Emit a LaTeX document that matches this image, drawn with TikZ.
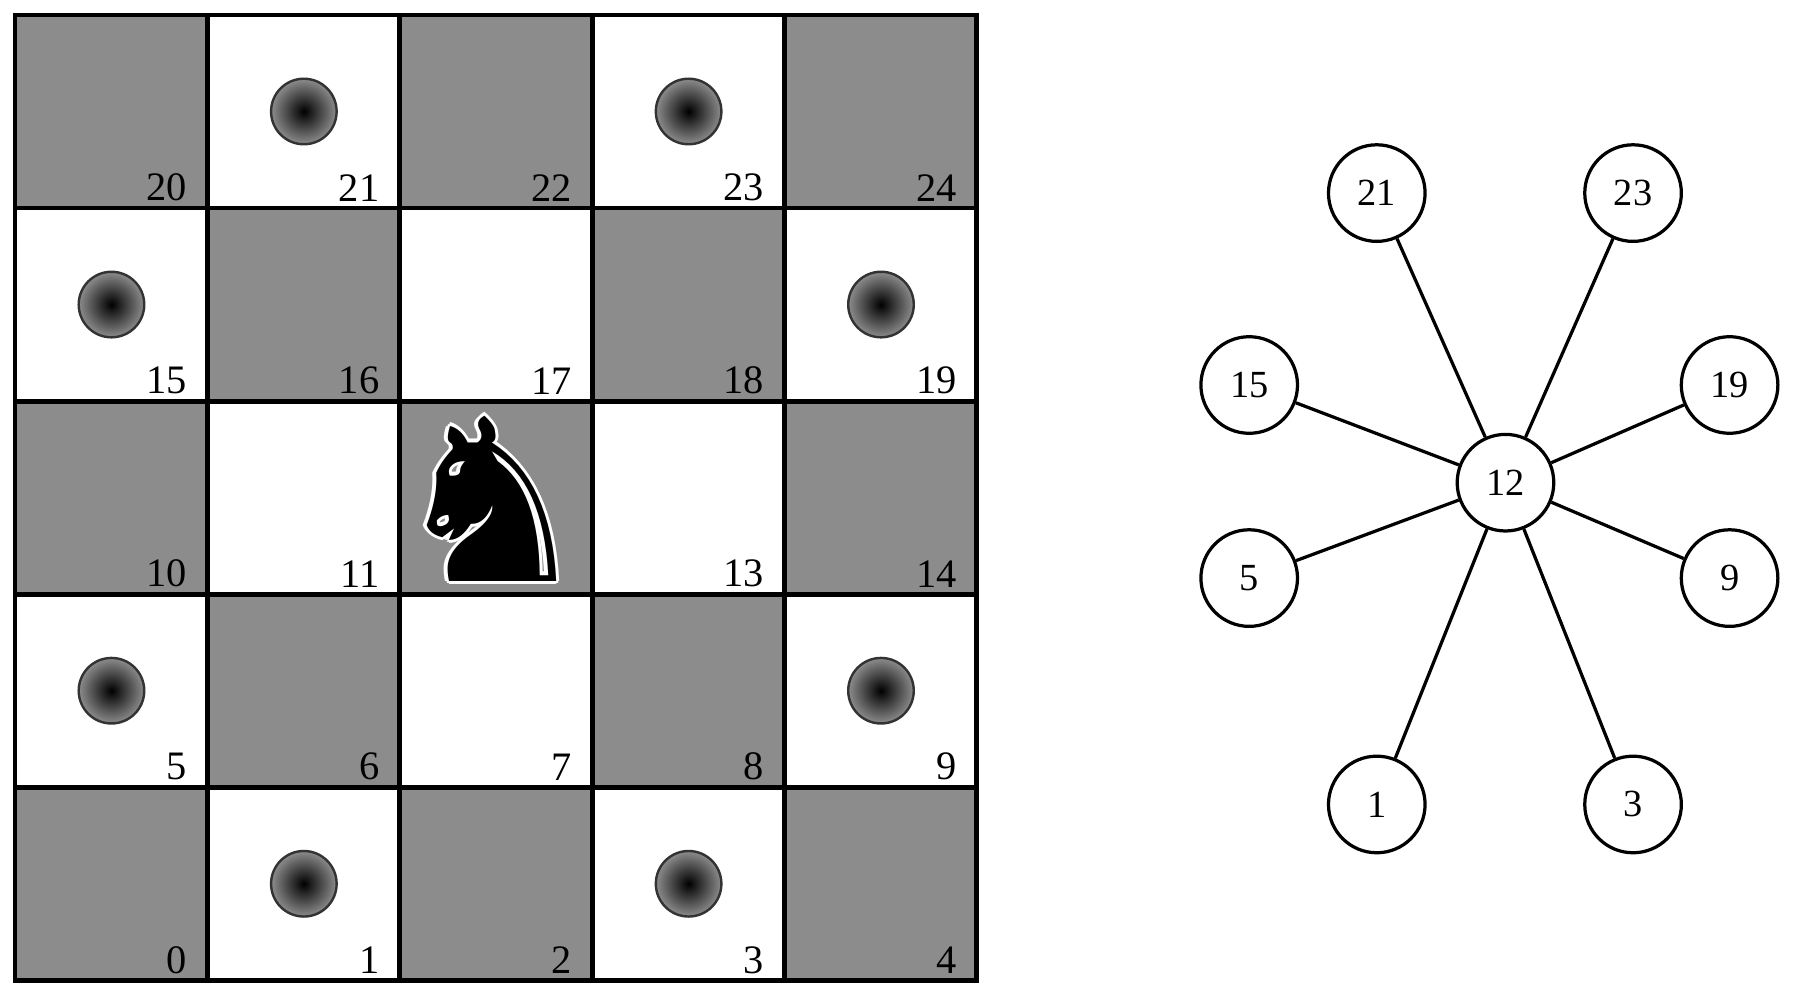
\documentclass[tikz,border=0pt]{standalone}
\usepackage{fontspec}
\setmainfont{Liberation Serif}
\newfontfamily\symfont{DejaVu Sans}
\begin{document}
\begin{tikzpicture}[x=0.01cm,y=-0.01cm,
  sq/.style={draw=black,line width=1.2pt},
  num/.style={anchor=south east,font=\fontsize{10}{10}\selectfont,inner xsep=0pt,inner ysep=1.5pt,xshift=-0.17cm},
  dot/.style={circle,minimum size=0.57cm,inner sep=0pt,draw=black!80,line width=0.6pt,inner color=black,outer color=black!45},
  gnode/.style={circle,draw=black,line width=0.8pt,fill=white,minimum size=0.84cm,inner sep=0pt,font=\fontsize{9.5}{10}\selectfont},
  kfont/.style={font=\symfont\fontsize{56}{56}\selectfont,inner sep=0pt},
  edge/.style={line width=0.8pt}]
\useasboundingbox (0,0) rectangle (1568,866);
\definecolor{gr}{RGB}{140,140,140}
\foreach \r in {0,...,4}{
  \foreach \c in {0,...,4}{
    \pgfmathtruncatemacro{\n}{\r*5+\c}
    \pgfmathtruncatemacro{\p}{mod(\r+\c,2)}
    \pgfmathsetmacro{\xa}{13+\c*167.4}
    \pgfmathsetmacro{\ya}{853-\r*168}
    \ifnum\p=0 \def\fc{gr}\else\def\fc{white}\fi
    \draw[sq,fill=\fc] (\xa,\ya) rectangle ++(167.4,-168);
    \ifnum\n=12 \else \node[num] (n\n) at (\xa+167.4,\ya) {\n};\fi
  }
}
\foreach \c/\r [count=\i] in {1/4,3/4,0/3,4/3,0/1,4/1,1/0,3/0}{
  \node[dot] (d\i) at (13+\c*167.4+84,853-\r*168-84) {};
}
\foreach \dx/\dy in {-3/0,3/0,0/-3,0/3,-2/-2,2/2,-2/2,2/-2}{
  \node[kfont,text=white] at (428+\dx,434+\dy) {♞};
}
\node[kfont] (kn) at (428,434) {♞};
% graph
\node[gnode] (g12) at (1310,420) {12};
\node[gnode] (g21) at (1198,168) {21};
\node[gnode] (g23) at (1421,168) {23};
\node[gnode] (g15) at (1087,335) {15};
\node[gnode] (g19) at (1505,335) {19};
\node[gnode] (g5) at (1087,503) {5};
\node[gnode] (g9) at (1505,503) {9};
\node[gnode] (g1) at (1198,700) {1};
\node[gnode] (g3) at (1421,700) {3};
\foreach \t in {21,23,15,19,5,9,1,3}{\draw[edge] (g12) -- (g\t);}
\end{tikzpicture}
\end{document}
